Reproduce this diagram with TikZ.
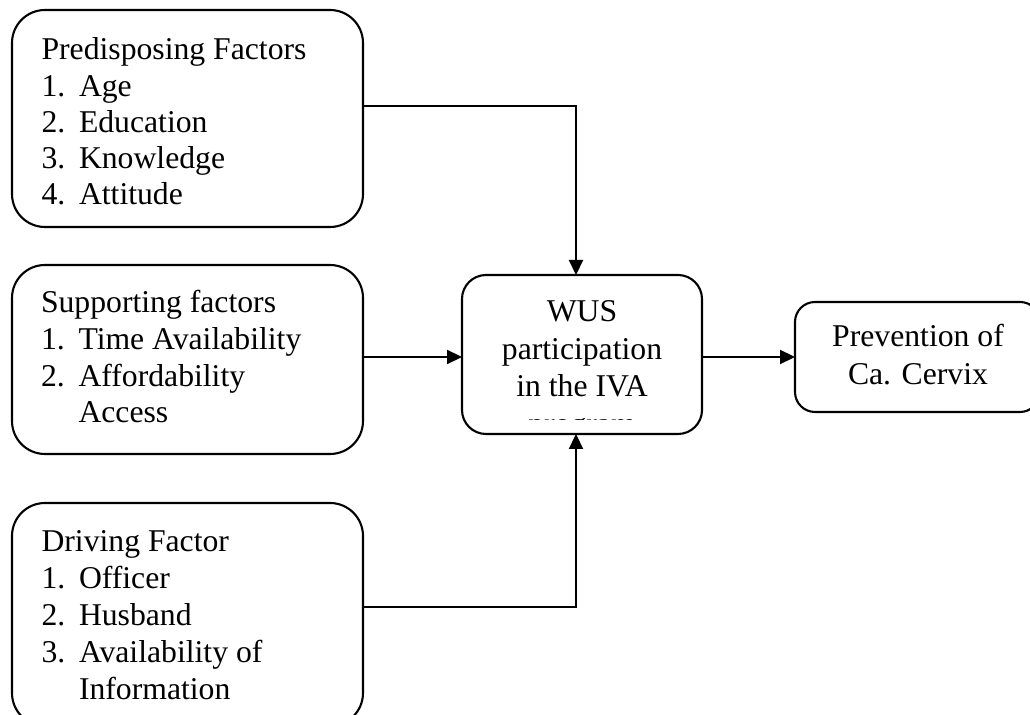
\documentclass[tikz,border=0pt]{standalone}
\usepackage{fontspec}
\setmainfont{Liberation Serif}
\usetikzlibrary{arrows.meta,fit}
\begin{document}
\begin{tikzpicture}[x=0.5pt,y=-0.5pt,
  every node/.style={font=\fontsize{15.85}{19}\selectfont, inner sep=0pt, outer sep=0pt},
  boxline/.style={draw, line width=1.05pt},
  lbox/.style={boxline, rounded corners=16.5pt},
  wbox/.style={boxline, rounded corners=12pt},
  pbox/.style={boxline, rounded corners=10pt},
  txt/.style={anchor=base west},
  ctxt/.style={anchor=base},
  arr/.style={line width=1.1pt, -{Triangle[length=7.5pt,width=7pt]}}
]
\useasboundingbox (0,0) rectangle (1030,715);
\clip (0,0) rectangle (1030,715);

% boxes
\node[lbox, fit={(12,10) (363,227)}] (pred) {};
\node[lbox, fit={(12,265) (363,454)}] (supp) {};
\node[lbox, fit={(12,503) (363,726)}] (drv) {};
\node[wbox, fit={(462,275) (702,434)}] (wus) {};
\node[pbox, fit={(795,302) (1040,412)}] (prev) {};

% predisposing text
\node[txt] (p0) at (41.5,60) {Predisposing Factors};
\node[txt] (p1n) at (41.5,96.5) {1.};
\node[txt] (p1) at (79,96.5) {Age};
\node[txt] (p2n) at (41.5,133) {2.};
\node[txt] (p2) at (79,133) {Education};
\node[txt] (p3n) at (41.5,169) {3.};
\node[txt] (p3) at (79,169) {Knowledge};
\node[txt] (p4n) at (41.5,205) {4.};
\node[txt] (p4) at (79,205) {Attitude};

% supporting text
\node[txt] (s0) at (41,313) {Supporting factors};
\node[txt] (s1n) at (41,350) {1.};
\node[txt] (s1) at (78.5,350) {Time Availability};
\node[txt] (s2n) at (41,387) {2.};
\node[txt] (s2) at (78.5,387) {Affordability};
\node[txt] (s3) at (78.5,423) {Access};

% driving text
\node[txt] (d0) at (41.5,552) {Driving Factor};
\node[txt] (d1n) at (41.5,589) {1.};
\node[txt] (d1) at (79,589) {Officer};
\node[txt] (d2n) at (41.5,626) {2.};
\node[txt] (d2) at (79,626) {Husband};
\node[txt] (d3n) at (41.5,663) {3.};
\node[txt] (d3) at (79,663) {Availability of};
\node[txt] (d4) at (79,700) {Information};

% WUS text
\node[ctxt] (w1) at (582,322) {WUS};
\node[ctxt] (w2) at (582,360) {participation};
\node[ctxt] (w3) at (582,397) {in the IVA};
\begin{scope}
  \clip (462,405) rectangle (702,419.5);
  \node[ctxt] (w4) at (582,435) {program};
\end{scope}

% prevention text
\node[ctxt] (v1) at (918,347) {Prevention of};
\node[ctxt] (v2) at (918,385) {Ca. Cervix};

% connectors
\coordinate (j1) at (576,106);
\coordinate (j2) at (400,357);
\coordinate (j3) at (576,607);
\draw[arr] (pred.east |- j1) -- (j1) -- (wus.north -| j1);
\draw[arr] (supp.east |- j2) -- (wus.west |- j2);
\draw[arr] (drv.east |- j3) -- (j3) -- (wus.south -| j3);
\draw[arr] (wus.east |- j2) -- (prev.west |- j2);
\end{tikzpicture}
\end{document}
